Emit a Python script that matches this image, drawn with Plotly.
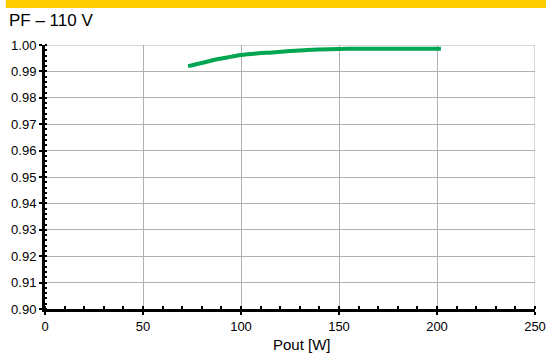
import plotly.graph_objects as go

# power factor at 110 V
pout = [73, 80, 86, 93, 100, 108, 116, 125, 134, 145, 160, 175, 190, 202]
pf = [0.9920, 0.9932, 0.9943, 0.9953, 0.9962, 0.9968, 0.9972, 0.9977,
      0.9981, 0.9984, 0.9986, 0.9986, 0.9986, 0.9986]

x_ticks = [0, 50, 100, 150, 200, 250]
y_ticks = [0.90, 0.91, 0.92, 0.93, 0.94, 0.95, 0.96, 0.97, 0.98, 0.99, 1.00]

fig = go.Figure()
fig.add_trace(go.Scatter(
    x=pout, y=pf,
    mode="lines",
    line=dict(color="#00A651", width=4, shape="spline"),
    showlegend=False,
))

# yellow band across the top of the page
fig.add_shape(type="rect", xref="paper", yref="paper",
              x0=-0.08, x1=1.03, y0=1.14, y1=1.2,
              fillcolor="#FFCC00", line_width=0, layer="below")

fig.add_annotation(text="PF \u2013 110 V", xref="paper", yref="paper",
                   x=-0.078, y=1.093, xanchor="left", yanchor="middle",
                   showarrow=False, font=dict(size=17))
# x axis title, sits a little right of centre in the original
fig.add_annotation(text="Pout [W]", xref="paper", yref="paper",
                   x=0.525, y=-0.135, xanchor="center", yanchor="middle",
                   showarrow=False, font=dict(size=15))

fig.update_layout(
    width=546, height=354,
    margin=dict(l=45, r=11, t=45, b=45),
    paper_bgcolor="white", plot_bgcolor="white",
    font=dict(family="Liberation Sans, Arial", size=13, color="black"),
    xaxis=dict(
        range=[0, 250], tickvals=x_ticks, automargin=False,
        showgrid=True, gridcolor="#b0b0b0", gridwidth=1,
        showline=True, linecolor="black", linewidth=3,
        ticks="outside", ticklen=3, tickwidth=2, tickcolor="black",
        minor=dict(dtick=10, ticks="inside", ticklen=3, tickwidth=2,
                   tickcolor="black", showgrid=False),
        zeroline=False,
    ),
    yaxis=dict(
        range=[0.90, 1.00], tickvals=y_ticks, tickformat=".2f", automargin=False,
        showgrid=True, gridcolor="#b0b0b0", gridwidth=1,
        showline=True, linecolor="black", linewidth=3,
        ticks="outside", ticklen=3, tickwidth=2, tickcolor="black",
        minor=dict(dtick=0.002, ticks="inside", ticklen=2, tickwidth=2,
                   tickcolor="black", showgrid=False),
        zeroline=False,
    ),
)
# right and top border gridlines
fig.add_shape(type="line", xref="x", yref="y", x0=250, x1=250, y0=0.90, y1=1.00,
              line=dict(color="#b0b0b0", width=1), layer="below")
fig.add_shape(type="line", xref="x", yref="y", x0=0, x1=250, y0=1.00, y1=1.00,
              line=dict(color="#b0b0b0", width=1), layer="below")

# drop the browser's default page margin so the figure fills the window
fig.write_html("out.html", config={"displayModeBar": False},
               post_script="document.body.style.margin='0';")
